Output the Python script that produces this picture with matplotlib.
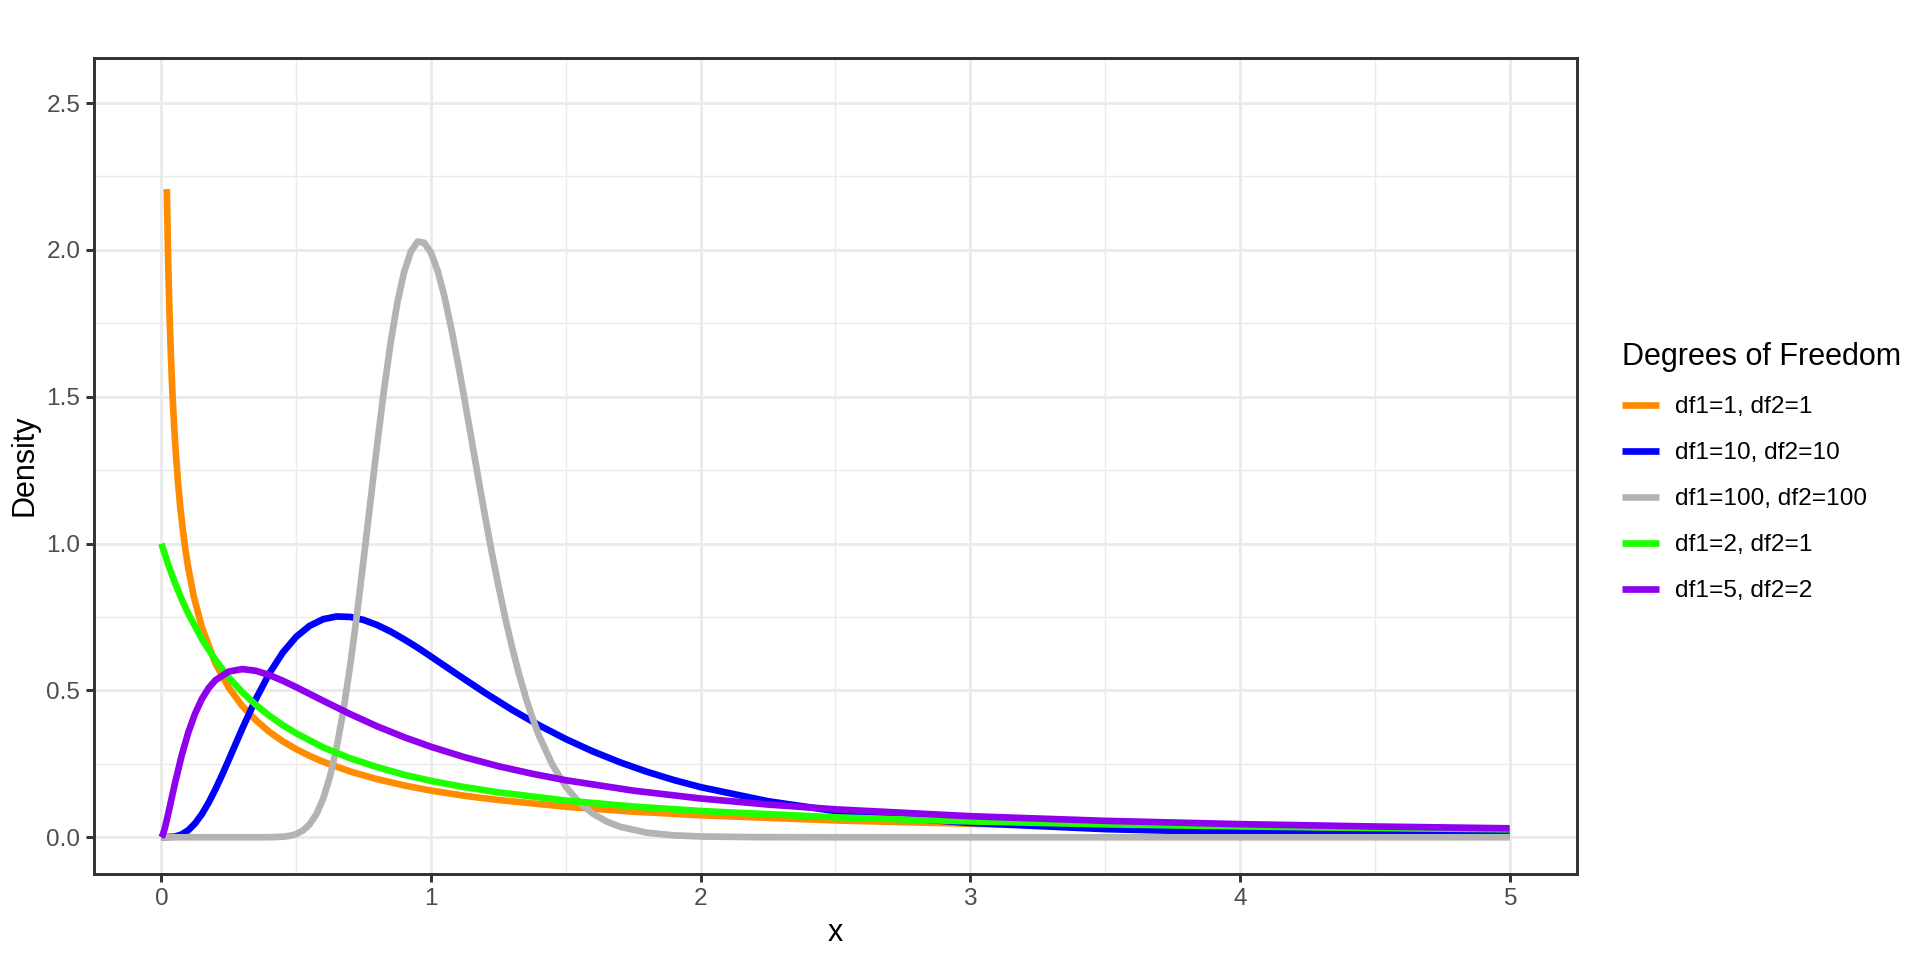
import numpy as np
import matplotlib.pyplot as plt
from matplotlib.ticker import MultipleLocator

plt.rcParams['font.family'] = ['Liberation Sans', 'DejaVu Sans']

# values
labels = ["df1=1, df2=1", "df1=10, df2=10", "df1=100, df2=100", "df1=2, df2=1", "df1=5, df2=2"]
colors = ["#FF8C00", "#0000FF", "#B3B3B3", "#1EFF00", "#8F00EE"]

x_orange = [0.02, 0.025, 0.03, 0.035, 0.04, 0.045, 0.05, 0.06, 0.07, 0.08, 0.09, 0.1, 0.12, 0.15, 0.2, 0.25,
            0.3, 0.35, 0.4, 0.45, 0.5, 0.55, 0.6, 0.7, 0.8, 0.9, 1.0, 1.125, 1.25, 1.5, 1.75, 2.0, 2.5, 3.0,
            3.5, 4.0, 4.5, 5.0]
y_orange = [2.207, 1.964, 1.784, 1.644, 1.530, 1.436, 1.356, 1.226, 1.124, 1.042, 0.973, 0.915, 0.820, 0.715,
            0.593, 0.509, 0.447, 0.399, 0.359, 0.327, 0.300, 0.277, 0.257, 0.224, 0.198, 0.1766, 0.159, 0.1412,
            0.127, 0.104, 0.0875, 0.075, 0.0575, 0.0459, 0.0378, 0.0318, 0.0273, 0.0237]

x_blue = [0, 0.05, 0.075, 0.1, 0.125, 0.15, 0.175, 0.2, 0.225, 0.25, 0.275, 0.3, 0.35, 0.4, 0.45, 0.5, 0.55,
          0.6, 0.65, 0.7, 0.75, 0.8, 0.85, 0.9, 0.95, 1.0, 1.1, 1.2, 1.3, 1.4, 1.5, 1.6, 1.7, 1.8, 1.9, 2.0,
          2.25, 2.5, 2.75, 3.0, 3.5, 4.0, 4.5, 5.0]
y_blue = [0, 0.0024, 0.0097, 0.0243, 0.0474, 0.0788, 0.1178, 0.1628, 0.2122, 0.2642, 0.3174, 0.3702, 0.4702,
          0.5576, 0.6288, 0.6828, 0.7201, 0.7426, 0.7519, 0.7503, 0.740, 0.7227, 0.7006, 0.6742, 0.6459, 0.6152,
          0.5530, 0.4919, 0.4343, 0.3817, 0.3344, 0.2925, 0.2556, 0.2233, 0.1951, 0.1707, 0.1228, 0.0892,
          0.0655, 0.0487, 0.0278, 0.0165, 0.0102, 0.0065]

x_gray = [0, 0.4, 0.45, 0.475, 0.5, 0.525, 0.55, 0.575, 0.6, 0.625, 0.65, 0.675, 0.7, 0.725, 0.75, 0.775,
          0.8, 0.825, 0.85, 0.875, 0.9, 0.925, 0.95, 0.975, 1.0, 1.025, 1.05, 1.075, 1.1, 1.125, 1.15, 1.175,
          1.2, 1.225, 1.25, 1.275, 1.3, 1.325, 1.35, 1.375, 1.4, 1.45, 1.5, 1.55, 1.6, 1.65, 1.7, 1.8, 1.9,
          2.0, 2.2, 2.5, 5.0]
y_gray = [0, 0.0002, 0.0019, 0.0048, 0.011, 0.0231, 0.0443, 0.0789, 0.1316, 0.2064, 0.3063, 0.433, 0.5845,
          0.757, 0.9464, 1.142, 1.336, 1.520, 1.683, 1.820, 1.925, 1.994, 2.028, 2.024, 1.990, 1.927, 1.840,
          1.733, 1.614, 1.487, 1.355, 1.224, 1.095, 0.971, 0.856, 0.747, 0.649, 0.560, 0.480, 0.409, 0.347,
          0.247, 0.172, 0.1185, 0.0806, 0.0542, 0.0361, 0.0157, 0.0066, 0.0028, 0.0005, 0, 0]

x_green = [0, 0.025, 0.05, 0.075, 0.1, 0.15, 0.2, 0.25, 0.3, 0.35, 0.4, 0.45, 0.5, 0.6, 0.7, 0.8, 0.9, 1.0,
           1.125, 1.25, 1.5, 1.75, 2.0, 2.5, 3.0, 3.5, 4.0, 4.5, 5.0]
y_green = [1.0, 0.929, 0.867, 0.811, 0.761, 0.675, 0.604, 0.544, 0.494, 0.451, 0.414, 0.382, 0.354, 0.306,
           0.269, 0.239, 0.213, 0.192, 0.1707, 0.153, 0.125, 0.1048, 0.0894, 0.068, 0.054, 0.0442, 0.037,
           0.0316, 0.0274]

x_purple = [0, 0.005, 0.01, 0.015, 0.02, 0.03, 0.04, 0.05, 0.075, 0.1, 0.125, 0.15, 0.175, 0.2, 0.25, 0.3,
            0.35, 0.4, 0.45, 0.5, 0.6, 0.7, 0.8, 0.9, 1.0, 1.125, 1.25, 1.375, 1.5, 1.75, 2.0, 2.25, 2.5, 3.0,
            3.5, 4.0, 4.5, 5.0]
y_purple = [0, 0.0084, 0.0227, 0.0399, 0.0589, 0.0996, 0.1416, 0.1829, 0.278, 0.3578, 0.4215, 0.4709, 0.5079,
            0.5345, 0.5645, 0.5727, 0.5669, 0.5525, 0.5331, 0.5112, 0.4648, 0.4196, 0.3779, 0.3409, 0.3081,
            0.2725, 0.2420, 0.2164, 0.1942, 0.1589, 0.1321, 0.1115, 0.0952, 0.0718, 0.0560, 0.0448, 0.0367,
            0.0306]

xs = [x_orange, x_blue, x_gray, x_green, x_purple]
ys = [y_orange, y_blue, y_gray, y_green, y_purple]

fig = plt.figure(figsize=(9.6, 4.8), dpi=200)
ax = fig.add_axes([94/1920, 1 - 874/960, (1577 - 94)/1920, (874 - 57.5)/960])

lines = []
for x, y, c, lab in zip(xs, ys, colors, labels):
    ln, = ax.plot(x, y, color=c, lw=2.4, label=lab, solid_joinstyle='round', solid_capstyle='butt')
    lines.append(ln)

ax.set_xlim(-0.25, 5.25)
ax.set_ylim(-0.125, 2.655)
ax.xaxis.set_major_locator(MultipleLocator(1))
ax.xaxis.set_minor_locator(MultipleLocator(0.5))
ax.yaxis.set_major_locator(MultipleLocator(0.5))
ax.yaxis.set_minor_locator(MultipleLocator(0.25))
ax.set_yticks([0, 0.5, 1.0, 1.5, 2.0, 2.5])
ax.set_yticklabels(["0.0", "0.5", "1.0", "1.5", "2.0", "2.5"])

ax.set_axisbelow(True)
ax.grid(which='major', color='#EBEBEB', lw=1.07)
ax.grid(which='minor', color='#EBEBEB', lw=0.53)
for s in ax.spines.values():
    s.set_color('#333333')
    s.set_linewidth(1.07)
ax.tick_params(which='major', length=2.75, width=1.07, color='#333333', labelcolor='#4D4D4D',
               labelsize=8.8, pad=2.2)
ax.tick_params(which='minor', length=0)

ax.set_xlabel("x", fontsize=11, labelpad=3)
ax.set_ylabel("Density", fontsize=11, labelpad=2.5)

leg = fig.legend(handles=lines, loc='center left', bbox_to_anchor=(1622/1920, 0.508),
                 frameon=False, title="Degrees of Freedom", title_fontsize=11, fontsize=8.8,
                 alignment='left', handlelength=1.5, handletextpad=0.65, labelspacing=0.98,
                 borderpad=0, borderaxespad=0)

fig.savefig("out.png", dpi=200, facecolor='white')
